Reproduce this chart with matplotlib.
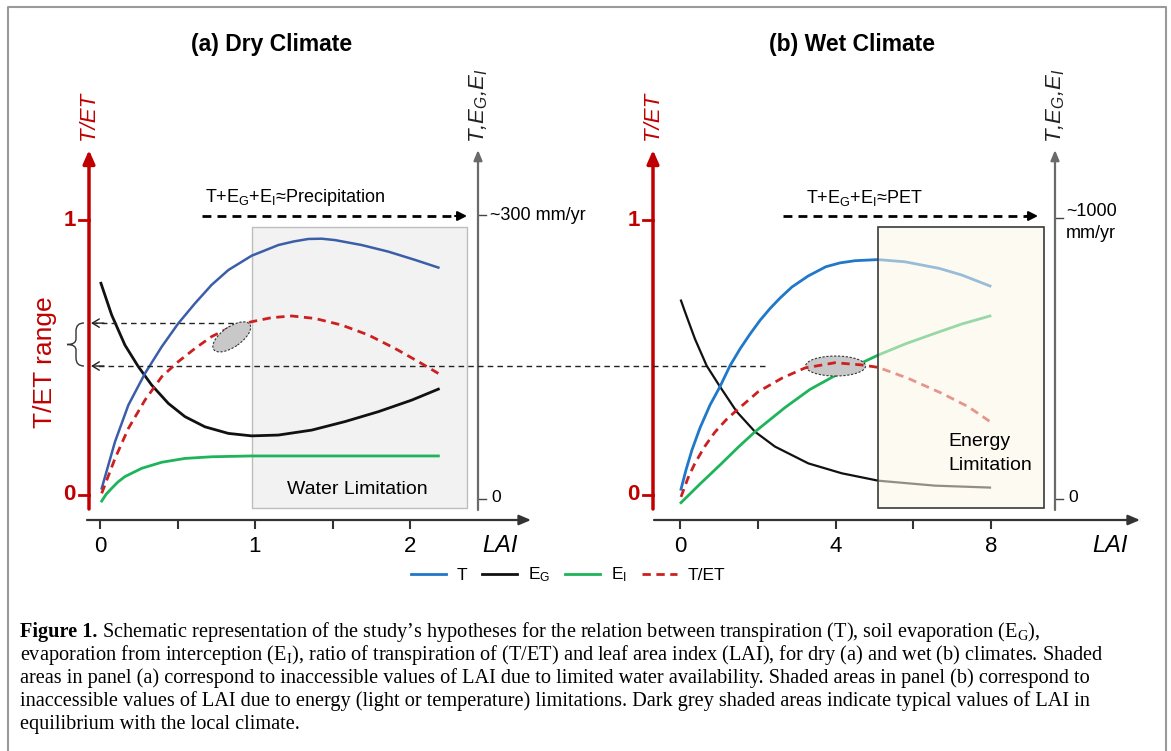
import matplotlib
matplotlib.use('Agg')
import matplotlib.pyplot as plt
import matplotlib.transforms as mtransforms
from matplotlib.patches import Rectangle, Ellipse, PathPatch
from matplotlib.path import Path
from matplotlib.lines import Line2D

plt.rcParams['font.family'] = ['Liberation Sans', 'DejaVu Sans']
plt.rcParams['mathtext.fontset'] = 'custom'
plt.rcParams['mathtext.rm'] = 'Liberation Sans'
plt.rcParams['mathtext.it'] = 'Liberation Sans:italic'
plt.rcParams['mathtext.bf'] = 'Liberation Sans:bold'

# ---------------- data (schematic values) ----------------
dry_lai_T = [0.011, 0.097, 0.183, 0.290, 0.398, 0.505, 0.613, 0.720, 0.828, 0.978, 1.151, 1.25, 1.344, 1.43, 1.516, 1.688, 1.860, 2.032, 2.183]
dry_T = [0.024, 0.194, 0.327, 0.442, 0.539, 0.624, 0.697, 0.764, 0.818, 0.870, 0.909, 0.922, 0.931, 0.932, 0.927, 0.909, 0.885, 0.855, 0.827]
dry_lai_EG = [0.006, 0.075, 0.161, 0.247, 0.333, 0.441, 0.548, 0.677, 0.828, 0.978, 1.151, 1.366, 1.581, 1.796, 2.011, 2.183]
dry_EG = [0.770, 0.655, 0.545, 0.467, 0.400, 0.333, 0.285, 0.248, 0.224, 0.215, 0.218, 0.236, 0.267, 0.303, 0.345, 0.385]
dry_lai_EI = [0.011, 0.04, 0.075, 0.115, 0.161, 0.269, 0.398, 0.548, 0.720, 0.978, 1.5, 2.183]
dry_EI = [-0.022, 0.003, 0.024, 0.047, 0.067, 0.097, 0.119, 0.133, 0.139, 0.142, 0.142, 0.142]
dry_lai_R = [0.011, 0.097, 0.183, 0.290, 0.398, 0.505, 0.613, 0.720, 0.849, 0.978, 1.108, 1.237, 1.387, 1.559, 1.731, 1.903, 2.054, 2.183]
dry_R = [0.006, 0.133, 0.242, 0.345, 0.430, 0.485, 0.533, 0.576, 0.612, 0.630, 0.645, 0.651, 0.642, 0.618, 0.582, 0.533, 0.485, 0.442]

wet_lai_T = [0.026, 0.154, 0.308, 0.514, 0.771, 1.028, 1.285, 1.542, 1.799, 2.057, 2.314, 2.571, 2.874, 3.290, 3.748, 4.113, 4.499, 5.090, 5.784, 6.666, 7.242, 7.969]
wet_T = [0.021, 0.091, 0.164, 0.244, 0.327, 0.394, 0.470, 0.531, 0.585, 0.635, 0.678, 0.716, 0.756, 0.796, 0.830, 0.844, 0.852, 0.856, 0.848, 0.824, 0.800, 0.760]
wet_lai_EG = [0.026, 0.116, 0.206, 0.386, 0.686, 1.028, 1.458, 1.928, 2.442, 3.298, 4.157, 5.098, 6.555, 7.969]
wet_EG = [0.707, 0.671, 0.636, 0.567, 0.470, 0.394, 0.303, 0.230, 0.176, 0.115, 0.079, 0.052, 0.034, 0.027]
wet_lai_EI = [0.026, 0.514, 1.028, 1.491, 1.928, 2.699, 3.342, 4.062, 5.098, 5.784, 6.555, 7.249, 7.969]
wet_EI = [-0.028, 0.040, 0.109, 0.173, 0.230, 0.318, 0.384, 0.440, 0.509, 0.549, 0.588, 0.622, 0.651]
wet_lai_R = [0.026, 0.206, 0.386, 0.643, 0.900, 1.183, 1.465, 2.005, 2.622, 3.213, 3.985, 4.671, 5.098, 5.869, 6.728, 7.411, 7.969]
wet_R = [-0.007, 0.062, 0.116, 0.178, 0.229, 0.273, 0.309, 0.375, 0.425, 0.462, 0.481, 0.473, 0.464, 0.424, 0.370, 0.321, 0.267]

dry_ticks = [0, 0.5, 1, 1.5, 2]
dry_ticklabels = ['0', '', '1', '', '2']
wet_ticks = [0, 2, 4, 6, 8]
wet_ticklabels = ['0', '', '4', '', '8']

tet_range = [0.625, 0.469]          # T/ET range marked on the left axis
dry_limit = [0.98, 2.37]            # LAI range of water limitation box
wet_limit = [5.10, 9.36]            # LAI range of energy limitation box
dry_typical = (0.85, 0.575)         # typical LAI / T/ET (dark grey ellipse)
wet_typical = (4.00, 0.469)

legend_labels = ['T', 'E$_\\mathregular{G}$', 'E$_\\mathregular{I}$', 'T/ET']

caption_rest = [
    ' Schematic representation of the study\u2019s hypotheses for the relation between transpiration (T), soil evaporation (E$_\\mathregular{G}$),',
    'evaporation from interception (E$_\\mathregular{I}$), ratio of transpiration of (T/ET) and leaf area index (LAI), for dry (a) and wet (b) climates. Shaded',
    'areas in panel (a) correspond to inaccessible values of LAI due to limited water availability. Shaded areas in panel (b) correspond to',
    'inaccessible values of LAI due to energy (light or temperature) limitations. Dark grey shaded areas indicate typical values of LAI in',
    'equilibrium with the local climate.',
]

# ---------------- styles ----------------
RED = '#c00000'
RED_D = '#cc2020'
BLUE_A = '#3b5ea8'
BLUE_B = '#1f78c8'
GREEN = '#1db45a'
BLACK = '#111111'
GREY = '#6a6a6a'

W, H = 1171, 751
fig = plt.figure(figsize=(W / 100, H / 100), dpi=100)

ov = fig.add_axes([0, 0, 1, 1])
ov.set_xlim(0, W)
ov.set_ylim(H, 0)
ov.axis('off')

PX0 = {'a': 100.0, 'b': 680.0}
PXS = {'a': 155.0, 'b': 38.9}
def dx(p, px):
    return (px - PX0[p]) / PXS[p]
def dy(py):
    return (495.0 - py) / 275.0

def panel_axes(p, left, right, top=60, bottom=600):
    ax = fig.add_axes([left / W, (H - bottom) / H, (right - left) / W, (bottom - top) / H])
    ax.set_xlim(dx(p, left), dx(p, right))
    ax.set_ylim(dy(bottom), dy(top))
    ax.patch.set_alpha(0)
    ax.axis('off')
    return ax

# frame
ov.plot([8, 8, 1166, 1166], [751, 7, 7, 751], color='#9a9a9a', lw=1.5)

# titles
ov.text(272, 44, '(a) Dry Climate', ha='center', va='center', fontsize=16.5, fontweight='bold')
ov.text(852, 44, '(b) Wet Climate', ha='center', va='center', fontsize=16.5, fontweight='bold')

def arrow(x0, y0, x1, y1, color, lw, hl=0.7, hw=0.3, style='-|>'):
    ov.annotate('', xy=(x1, y1), xytext=(x0, y0),
                arrowprops=dict(arrowstyle=f'{style},head_length={hl},head_width={hw}',
                                color=color, lw=lw, shrinkA=0, shrinkB=0))

for p, xr, xg, xl0, xl1, xlai in [('a', 89, 478, 87, 531, 500), ('b', 653, 1055, 654, 1140, 1110)]:
    arrow(xr, 509, xr, 150, RED, 2.5, 0.8, 0.35)
    ov.plot([xr - 10, xr], [220, 220], color=RED, lw=2)
    ov.plot([xr - 10, xr], [495, 495], color=RED, lw=2)
    ov.text(xr - 13, 220, '1', ha='right', va='center', fontsize=16, fontweight='bold', color=RED)
    ov.text(xr - 13, 495, '0', ha='right', va='center', fontsize=16, fontweight='bold', color=RED)
    ov.text(xr, 116, 'T/ET', rotation=90, ha='center', va='center', fontsize=16,
            fontstyle='italic', color=RED)
    arrow(xg, 510, xg, 150, GREY, 1.6, 0.6, 0.25)
    ov.text(xg + 1, 106, '$T$,$E_G$,$E_I$', rotation=90, ha='center', va='center', fontsize=16,
            fontstyle='italic', color='#222222')
    ov.plot([xg, xg + 8], [499, 499], color='#444444', lw=1)
    ov.text(xg + 13, 498, '0', ha='left', va='center', fontsize=12.5)
    arrow(xl0, 520, xl1, 520, '#333333', 1.6, 0.7, 0.3)
    ov.text(xlai, 545, 'LAI', ha='center', va='center', fontsize=17, fontstyle='italic')

ov.plot([478, 486], [215, 215], color='#444444', lw=1)
ov.text(490, 215, '~300 mm/yr', ha='left', va='center', fontsize=13)
ov.plot([1055, 1063], [218, 218], color='#444444', lw=1)
ov.text(1066, 211, '~1000', ha='left', va='center', fontsize=13)
ov.text(1066, 234, 'mm/yr', ha='left', va='center', fontsize=13)

for x0, x1, txt, xt in [(202, 467, 'T+E$_\\mathregular{G}$+E$_\\mathregular{I}$\u2248Precipitation', 205),
                        (783, 1038, 'T+E$_\\mathregular{G}$+E$_\\mathregular{I}$\u2248PET', 806)]:
    ov.plot([x0, x1 - 8], [216, 216], color='k', lw=2, dashes=(3.2, 2.2))
    arrow(x1 - 12, 216, x1, 216, 'k', 1.5, 0.55, 0.28)
    ov.text(xt, 198, txt, ha='left', va='center', fontsize=13)

ov.text(45, 362, 'T/ET range', rotation=90, ha='center', va='center', fontsize=19, color=RED)
bverts = [(84, 323), (76, 323), (76, 331), (76, 339), (76, 344.5), (67, 344.5),
          (76, 344.5), (76, 350), (76, 358), (76, 366), (84, 366)]
bcodes = [Path.MOVETO, Path.CURVE3, Path.CURVE3, Path.LINETO, Path.CURVE3, Path.CURVE3,
          Path.CURVE3, Path.CURVE3, Path.LINETO, Path.CURVE3, Path.CURVE3]
ov.add_patch(PathPatch(Path(bverts, bcodes), fill=False, ec='#333333', lw=1))

ov.text(401, 268, 'water stress\u2191', rotation=-20, ha='center', va='center', fontsize=9.5,
        fontweight='bold', rotation_mode='anchor')
arrow(406, 248, 430, 257, 'k', 1.0, 0.4, 0.18)

# ---------------- panel (a) ----------------
ax_a = panel_axes('a', 20, 580)
ax_a.add_patch(Rectangle((dry_limit[0], dy(508)), dry_limit[1] - dry_limit[0], dy(227) - dy(508),
                         fc='#f2f2f2', ec='#bdbdbd', lw=1, zorder=0))
ax_a.text(dx('a', 357), dy(490), 'Water Limitation', ha='center', va='center', fontsize=14, zorder=5)
ax_a.plot(dry_lai_EI, dry_EI, color=GREEN, lw=2, zorder=2)
ax_a.plot(dry_lai_EG, dry_EG, color=BLACK, lw=2, zorder=2)
ax_a.plot(dry_lai_T, dry_T, color=BLUE_A, lw=1.8, zorder=2)
ax_a.plot(dry_lai_R, dry_R, color=RED_D, lw=2, dashes=(3, 2), zorder=3)
ax_a.vlines(dry_ticks, dy(529), dy(520), color='#333333', lw=1.5, clip_on=False)
for t, lab in zip(dry_ticks, dry_ticklabels):
    if lab:
        ax_a.text(t, dy(546), lab, ha='center', va='center', fontsize=16)
e_tr = fig.dpi_scale_trans + mtransforms.ScaledTranslation(dry_typical[0], dry_typical[1], ax_a.transData)
ax_a.add_patch(Ellipse((0, 0), 0.44, 0.20, angle=35, transform=e_tr, fc='#c8c8c8', ec='#333333',
                       lw=0.8, ls=(0, (2, 1.5)), zorder=4))
ax_a.plot([dx('a', 243), dx('a', 95)], [tet_range[0]] * 2, color='#222222', lw=1, dashes=(4, 3), clip_on=False)
ax_a.plot([dx('a', 765), dx('a', 95)], [tet_range[1]] * 2, color='#222222', lw=1, dashes=(4, 3), clip_on=False)
for v in tet_range:
    ax_a.annotate('', xy=(dx('a', 91), v), xytext=(dx('a', 104), v),
                  arrowprops=dict(arrowstyle='->,head_length=0.5,head_width=0.3', color='#222222',
                                  lw=1, shrinkA=0, shrinkB=0))

# ---------------- panel (b) ----------------
ax_b = panel_axes('b', 600, 1160)
ax_b.plot(wet_lai_EG, wet_EG, color=BLACK, lw=1.6, zorder=2)
ax_b.plot(wet_lai_EI, wet_EI, color=GREEN, lw=2, zorder=2)
ax_b.plot(wet_lai_T, wet_T, color=BLUE_B, lw=2, zorder=2)
ax_b.plot(wet_lai_R, wet_R, color=RED_D, lw=2, dashes=(3, 2), zorder=3)
e_tr_b = fig.dpi_scale_trans + mtransforms.ScaledTranslation(wet_typical[0], wet_typical[1], ax_b.transData)
ax_b.add_patch(Ellipse((0, 0), 0.60, 0.20, angle=0, transform=e_tr_b, fc='#c8c8c8', ec='#333333',
                       lw=0.8, ls=(0, (2, 1.5)), zorder=2.5))
ax_b.add_patch(Rectangle((wet_limit[0], dy(508)), wet_limit[1] - wet_limit[0], dy(227) - dy(508),
                         fc='#fdf6e6', ec='none', alpha=0.55, zorder=4))
ax_b.add_patch(Rectangle((wet_limit[0], dy(508)), wet_limit[1] - wet_limit[0], dy(227) - dy(508),
                         fill=False, ec='#3a3a3a', lw=1.2, zorder=5))
ax_b.text(dx('b', 948), dy(442), 'Energy', ha='left', va='center', fontsize=14, zorder=6)
ax_b.text(dx('b', 948), dy(466), 'Limitation', ha='left', va='center', fontsize=14, zorder=6)
ax_b.vlines(wet_ticks, dy(529), dy(520), color='#333333', lw=1.5, clip_on=False)
for t, lab in zip(wet_ticks, wet_ticklabels):
    if lab:
        ax_b.text(t, dy(546), lab, ha='center', va='center', fontsize=16)

# ---------------- legend ----------------
handles = [Line2D([], [], color=BLUE_B, lw=2),
           Line2D([], [], color=BLACK, lw=2),
           Line2D([], [], color=GREEN, lw=2),
           Line2D([], [], color=RED_D, lw=2, dashes=(3, 2))]
fig.legend(handles, legend_labels, loc='center', bbox_to_anchor=(568 / W, 1 - 575 / H), ncol=4,
           frameon=False, fontsize=12.5, handlelength=2.0, handletextpad=0.6, columnspacing=0.9)

# ---------------- caption ----------------
cfs = 13.5
base_y = [637, 660, 683, 706, 729]
targets = [1140, 1140, 1132, 1094, None]
t_bold = ov.text(20, base_y[0], 'Figure 1.', fontfamily='Liberation Serif', fontweight='bold',
                 fontsize=cfs, va='baseline', ha='left')
cap_texts = []
for i, line in enumerate(caption_rest):
    cap_texts.append(ov.text(20, base_y[i], line, fontfamily='Liberation Serif', fontsize=cfs,
                             va='baseline', ha='left'))

def layout():
    fig.canvas.draw()
    r = fig.canvas.get_renderer()
    bb = t_bold.get_window_extent(r)
    xa = ov.transData.inverted().transform((bb.x1, 0))[0]
    cap_texts[0].set_x(xa)
    fig.canvas.draw()
    inv = ov.transData.inverted()
    return [inv.transform((t.get_window_extent(r).x1, 0))[0] for t in cap_texts]

ends = layout()
scale = min((targets[i] - 20) / (ends[i] - 20) for i in range(4))
for t in [t_bold] + cap_texts:
    t.set_fontsize(cfs * scale)
layout()

fig.savefig('out.png', dpi=100)
